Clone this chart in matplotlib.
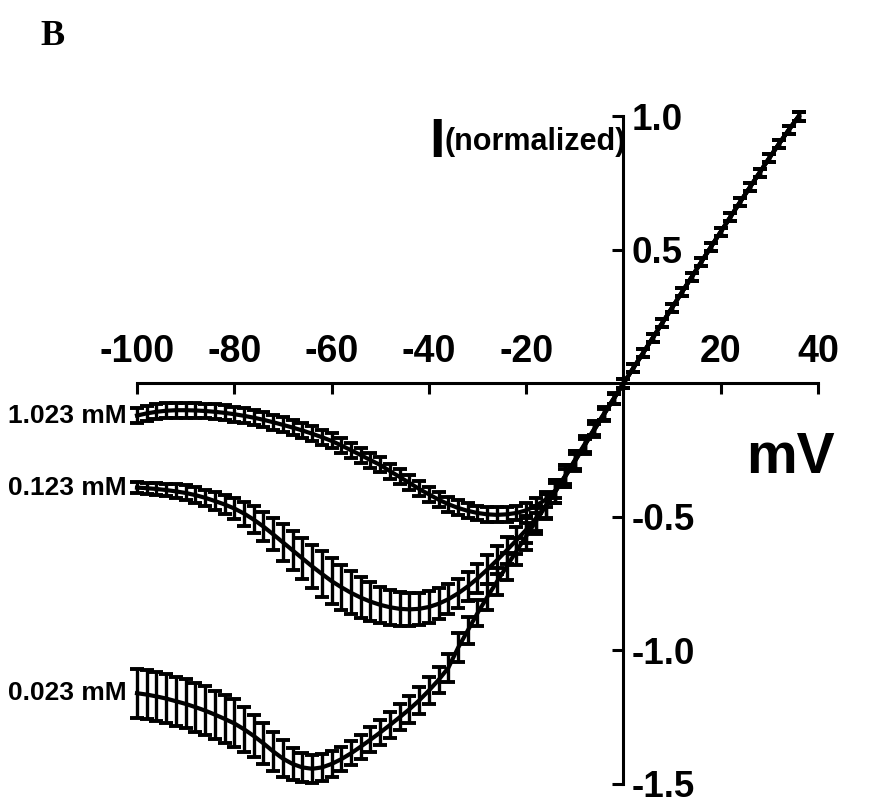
import matplotlib
matplotlib.use('Agg')
import matplotlib.pyplot as plt

plt.rcParams['font.family'] = ['Liberation Sans', 'DejaVu Sans']
plt.rcParams['font.weight'] = 'bold'

# membrane potential (mV)
volts = [-100, -98, -96, -94, -92, -90, -88, -86, -84, -82,
         -80, -78, -76, -74, -72, -70, -68, -66, -64, -62,
         -60, -58, -56, -54, -52, -50, -48, -46, -44, -42,
         -40, -38, -36, -34, -32, -30, -28, -26, -24, -22,
         -20, -18, -16, -14, -12, -10, -8, -6, -4, -2,
         0, 2, 4, 6, 8, 10, 12, 14, 16, 18,
         20, 22, 24, 26, 28, 30, 32, 34, 36]

# normalized current, 1.023 mM
i_1023 = [-0.120, -0.112, -0.106, -0.102, -0.100, -0.100, -0.101, -0.103, -0.106, -0.110,
          -0.115, -0.121, -0.128, -0.136, -0.145, -0.155, -0.165, -0.176, -0.188, -0.201,
          -0.215, -0.232, -0.250, -0.268, -0.287, -0.305, -0.328, -0.350, -0.372, -0.395,
          -0.415, -0.435, -0.452, -0.466, -0.477, -0.485, -0.490, -0.492, -0.490, -0.485,
          -0.475, -0.458, -0.435, -0.400, -0.350, -0.292, -0.232, -0.172, -0.115, -0.057,
          0.000, 0.057, 0.113, 0.170, 0.227, 0.284, 0.341, 0.398, 0.455, 0.512,
          0.568, 0.624, 0.680, 0.735, 0.790, 0.845, 0.898, 0.950, 1.000]
e_1023 = [0.028, 0.028, 0.028, 0.028, 0.028, 0.028, 0.028, 0.028, 0.028, 0.028,
          0.028, 0.028, 0.028, 0.028, 0.028, 0.028, 0.028, 0.028, 0.028, 0.028,
          0.028, 0.028, 0.028, 0.028, 0.028, 0.028, 0.028, 0.028, 0.028, 0.028,
          0.028, 0.028, 0.028, 0.028, 0.028, 0.028, 0.028, 0.028, 0.028, 0.028,
          0.028, 0.028, 0.028, 0.028, 0.028, 0.028, 0.025, 0.022, 0.020, 0.018,
          0.015, 0.015, 0.015, 0.015, 0.015, 0.015, 0.015, 0.015, 0.015, 0.015,
          0.015, 0.015, 0.015, 0.015, 0.015, 0.015, 0.015, 0.015, 0.015]

# normalized current, 0.123 mM
i_0123 = [-0.390, -0.392, -0.395, -0.399, -0.404, -0.410, -0.418, -0.428, -0.440, -0.453,
          -0.468, -0.487, -0.510, -0.536, -0.565, -0.595, -0.625, -0.655, -0.685, -0.713,
          -0.740, -0.763, -0.784, -0.802, -0.817, -0.829, -0.838, -0.844, -0.846, -0.844,
          -0.837, -0.825, -0.808, -0.786, -0.760, -0.730, -0.697, -0.662, -0.625, -0.587,
          -0.548, -0.505, -0.458, -0.405, -0.347, -0.287, -0.228, -0.170, -0.113, -0.056,
          0.000, 0.057, 0.113, 0.170, 0.227, 0.284, 0.341, 0.398, 0.455, 0.512,
          0.568, 0.624, 0.680, 0.735, 0.790, 0.845, 0.898, 0.950, 1.000]
e_0123 = [0.020, 0.020, 0.022, 0.024, 0.026, 0.028, 0.030, 0.030, 0.032, 0.035,
          0.040, 0.045, 0.050, 0.055, 0.060, 0.068, 0.074, 0.078, 0.082, 0.085,
          0.086, 0.084, 0.080, 0.076, 0.072, 0.068, 0.065, 0.063, 0.062, 0.061,
          0.060, 0.058, 0.056, 0.055, 0.055, 0.054, 0.053, 0.052, 0.051, 0.050,
          0.050, 0.047, 0.045, 0.042, 0.040, 0.036, 0.032, 0.028, 0.024, 0.020,
          0.015, 0.015, 0.015, 0.015, 0.015, 0.015, 0.015, 0.015, 0.015, 0.015,
          0.015, 0.015, 0.015, 0.015, 0.015, 0.015, 0.015, 0.015, 0.015]

# normalized current, 0.023 mM
i_0023 = [-1.160, -1.165, -1.172, -1.180, -1.190, -1.200, -1.212, -1.225, -1.240, -1.256,
          -1.273, -1.295, -1.320, -1.348, -1.378, -1.405, -1.425, -1.438, -1.443, -1.438,
          -1.425, -1.407, -1.385, -1.360, -1.334, -1.307, -1.279, -1.250, -1.220, -1.187,
          -1.150, -1.110, -1.065, -0.990, -0.925, -0.860, -0.800, -0.742, -0.685, -0.628,
          -0.572, -0.516, -0.460, -0.404, -0.347, -0.290, -0.232, -0.174, -0.116, -0.058,
          0.000, 0.057, 0.113, 0.170, 0.227, 0.284, 0.341, 0.398, 0.455, 0.512,
          0.568, 0.624, 0.680, 0.735, 0.790, 0.845, 0.898, 0.950, 1.000]
e_0023 = [0.092, 0.092, 0.092, 0.092, 0.092, 0.092, 0.092, 0.092, 0.090, 0.090,
          0.090, 0.085, 0.080, 0.076, 0.072, 0.068, 0.060, 0.055, 0.052, 0.050,
          0.048, 0.046, 0.045, 0.045, 0.046, 0.047, 0.048, 0.049, 0.050, 0.050,
          0.050, 0.050, 0.052, 0.054, 0.052, 0.050, 0.050, 0.050, 0.050, 0.050,
          0.050, 0.048, 0.046, 0.044, 0.040, 0.036, 0.032, 0.028, 0.024, 0.020,
          0.015, 0.015, 0.015, 0.015, 0.015, 0.015, 0.015, 0.015, 0.015, 0.015,
          0.015, 0.015, 0.015, 0.015, 0.015, 0.015, 0.015, 0.015, 0.015]

series = [(i_1023, e_1023, '1.023 mM'),
          (i_0123, e_0123, '0.123 mM'),
          (i_0023, e_0023, '0.023 mM')]

x_ticks = [-100, -80, -60, -40, -20, 0, 20, 40]
x_labels = ['-100', '-80', '-60', '-40', '-20', '', '20', '40']
y_ticks = [-1.5, -1.0, -0.5, 0.5, 1.0]
y_labels = ['-1.5', '-1.0', '-0.5', '0.5', '1.0']

W, H = 887, 806
fig = plt.figure(figsize=(W / 100, H / 100), dpi=100)
ax = fig.add_axes([137 / W, 1 - 784 / H, 681 / W, 667.5 / H])
ax.set_xlim(-100, 40)
ax.set_ylim(-1.5, 1.0)

for cur, err, name in series:
    ax.errorbar(volts, cur, yerr=err, color='black', lw=3.0, elinewidth=2.4,
                capsize=5, capthick=2.8, clip_on=False)
    ax.text(-102.2, cur[0], name, ha='right', va='center', fontsize=19,
            fontweight='bold')

# axes crossing at the origin
ax.spines['bottom'].set_visible(False)
ax.spines['left'].set_visible(False)
ax.spines['top'].set_position(('data', 0))
ax.spines['right'].set_position(('data', 0))
for s in ('top', 'right'):
    ax.spines[s].set_linewidth(2.2)
ax.xaxis.set_ticks_position('top')
ax.yaxis.set_ticks_position('right')
ax.set_xticks(x_ticks)
ax.set_xticklabels(x_labels)
ax.set_yticks(y_ticks)
ax.set_yticklabels(y_labels)
ax.tick_params(axis='x', direction='in', length=8, width=2.2, pad=10, labelsize=27)
ax.tick_params(axis='y', direction='in', length=8, width=2.2, pad=6, labelsize=26.5)
for lab in ax.get_xticklabels() + ax.get_yticklabels():
    lab.set_fontweight('bold')

fig.text(790 / W, 1 - 458 / H, 'mV', ha='center', va='center',
         fontsize=41, fontweight='bold')
fig.text(429 / W, 1 - 157 / H, 'I', ha='left', va='baseline',
         fontsize=40, fontweight='bold')
fig.text(444 / W, 1 - 150 / H, '(normalized)', ha='left', va='baseline',
         fontsize=22, fontweight='bold')
fig.text(40 / W, 1 - 45 / H, 'B', ha='left', va='baseline', fontsize=26,
         fontweight='bold', family='Liberation Serif')

fig.savefig('out.png', dpi=100)
